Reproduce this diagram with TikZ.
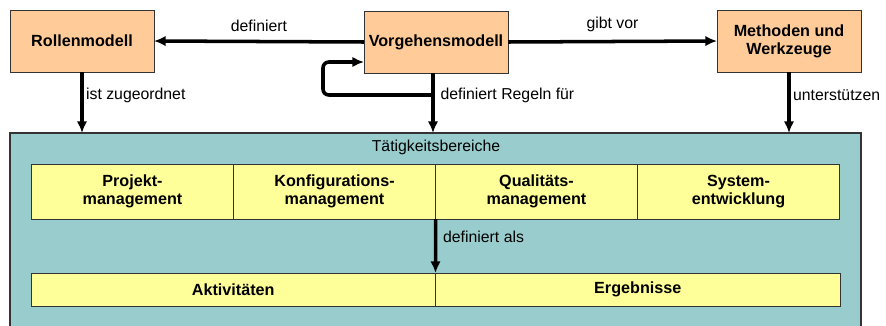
\documentclass[tikz,border=0pt]{standalone}
\usepackage{fontspec}
\setmainfont{Liberation Sans}
\usetikzlibrary{positioning,calc,arrows.meta}

\definecolor{boxorange}{HTML}{FFCC99}
\definecolor{areateal}{HTML}{99CCCC}
\definecolor{cellyellow}{HTML}{FFFF99}
\definecolor{edgegray}{HTML}{333333}

\tikzset{
  model/.style={draw=edgegray, fill=boxorange, thick, minimum width=4.32cm, minimum height=1.86cm,
    align=center, font=\fontsize{13.8}{15.5}\selectfont\bfseries, inner sep=0pt, outer sep=0pt},
  cell/.style={draw=edgegray, fill=cellyellow, thick, minimum width=6.06cm, minimum height=1.65cm,
    align=center, font=\fontsize{13.8}{15.5}\selectfont\bfseries, inner sep=0pt, outer sep=0pt},
  widecell/.style={cell, minimum width=12.135cm, minimum height=0.99cm},
  rel/.style={line width=3pt, -{Latex[length=10pt,width=9pt]}},
  lbl/.style={font=\fontsize{13.5}{15.5}\selectfont, inner sep=2pt},
}

\begin{document}
\begin{tikzpicture}[x=0.03cm, y=-0.03cm]
    \useasboundingbox (0,0) rectangle (886,325);

    % Modelle
    \node[model] (rollen) at (82,41) {Rollenmodell};
    \node[model] (vg) at (436,42) {Vorgehensmodell};
    \node[model] (methoden) at (789,41) {Methoden und\\Werkzeuge};

    % Taetigkeitsbereiche
    \node[draw=edgegray, fill=areateal, line width=1.2pt, minimum width=25.53cm, minimum height=7.2cm,
      inner sep=0pt, outer sep=0pt, anchor=north west] (bereiche) at (10,133) {};
    \node[lbl] (titel) at (436,147) {Tätigkeitsbereiche};

    \node[cell] (pm) at (132.5,191.5) {Projekt-\\management};
    \node[cell, right=0pt of pm] (km) {Konfigurations-\\management};
    \node[cell, right=0pt of km] (qm) {Qualitäts-\\management};
    \node[cell, right=0pt of qm] (se) {System-\\entwicklung};

    \node[widecell, anchor=north west] (akt) at (31,273) {Aktivitäten};
    \node[widecell, right=0pt of akt] (erg) {Ergebnisse};

    % Beziehungen
    \draw[rel] (vg.west) -- node[lbl, above=5pt] {definiert} (rollen.east);
    \draw[rel] (vg.east) -- node[lbl, above=5pt] {gibt vor} (methoden.west);

    \draw[rel] (rollen.south) -- node[lbl, right, pos=0.38] {ist zugeordnet} (rollen.south |- bereiche.north);
    \draw[rel] ([xshift=-0.09cm]vg.south) -- node[lbl, right=3pt, pos=0.38] {definiert Regeln für} ([xshift=-0.09cm]vg.south |- bereiche.north);
    \draw[rel] (methoden.south) -- node[lbl, right, pos=0.38] {unterstützen} (methoden.south |- bereiche.north);

    \coordinate (schleife) at (323,95);
    \draw[rel, rounded corners=5pt] ([xshift=-0.09cm]vg.south |- schleife) -- (schleife) |- ($(vg.west)+(0,20)$);

    \draw[rel] (km.south east) -- node[lbl, right=3pt, pos=0.33] {definiert als} (akt.north east);
\end{tikzpicture}
\end{document}
